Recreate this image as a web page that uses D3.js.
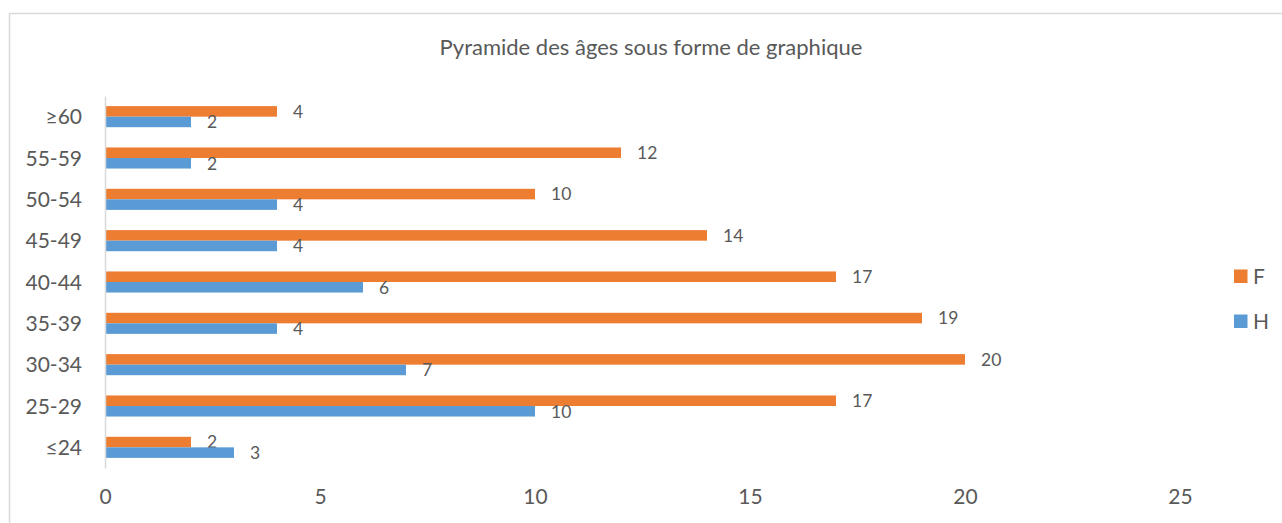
<!DOCTYPE html>
<html><head><meta charset="utf-8">
<script src="https://cdn.jsdelivr.net/npm/d3@7"></script>
<style>
html,body{margin:0;padding:0;background:#fff;}
svg{display:block;}
text{font-family:Lato, "Noto Sans", sans-serif;fill:#595959;}
</style></head>
<body>
<svg id="chart" width="1282" height="523"></svg>
<script>
const categories = ["≥60","55-59","50-54","45-49","40-44","35-39","30-34","25-29","≤24"];
const seriesNames = ["F","H"];
const valuesF = [4,12,10,14,17,19,20,17,2];
const valuesH = [2,2,4,4,6,4,7,10,3];
const xTicks = [0,5,10,15,20,25];
const title = "Pyramide des âges sous forme de graphique";
const colors = {F:"#ED7D31", H:"#5B9BD5"};

const svg = d3.select("#chart");
svg.append("rect").attr("x",9.5).attr("y",13.5).attr("width",1290).attr("height",530)
  .attr("fill","none").attr("stroke","#d9d9d9").attr("stroke-width",1.5);

svg.append("text").attr("x",651).attr("y",55).attr("text-anchor","middle")
  .style("font-size","22px").text(title);

const x = d3.scaleLinear().domain([0,25]).range([105,1180]);
const y = d3.scaleBand().domain(categories).range([96,468]).paddingInner(0.49).paddingOuter(0.245);
const ySub = d3.scaleBand().domain(seriesNames).range([0,y.bandwidth()]);

const data = categories.map((c,i)=>({cat:c, F:valuesF[i], H:valuesH[i]}));

const g = svg.append("g");
seriesNames.forEach(s=>{
  g.selectAll("rect.b"+s).data(data).join("rect")
    .attr("x",x(0)).attr("y",d=>y(d.cat)+ySub(s))
    .attr("width",d=>x(d[s])-x(0)).attr("height",ySub.bandwidth())
    .attr("fill",colors[s]);
  g.selectAll("text.l"+s).data(data).join("text")
    .attr("x",d=>x(d[s])+16).attr("y",d=>y(d.cat)+ySub(s)+ySub.bandwidth()/2)
    .attr("dy","0.36em").style("font-size","17.5px").text(d=>d[s]);
});

// y axis
const yAxis = d3.axisLeft(y).tickSize(0).tickPadding(23);
const ya = svg.append("g").attr("transform","translate(105,0)").call(yAxis);
ya.select(".domain").attr("stroke","#d9d9d9").attr("stroke-width",1.5);
ya.selectAll("text").style("font-size","21px").style("font-family","Lato, 'Noto Sans', sans-serif").attr("fill","#595959").attr("dy","0.36em");

// x axis labels only
const xAxis = d3.axisBottom(x).tickValues(xTicks).tickSize(0).tickPadding(0);
const xa = svg.append("g").attr("transform","translate(0,489)").call(xAxis);
xa.select(".domain").remove();
xa.selectAll("text").style("font-size","21px").style("font-family","Lato, 'Noto Sans', sans-serif").attr("fill","#595959").attr("dy","0.72em");

// legend
const leg = svg.append("g");
const legY = {F:276, H:321};
seriesNames.forEach(s=>{
  leg.append("rect").attr("x",1234).attr("y",legY[s]-6.5).attr("width",13.5).attr("height",13.5).attr("fill",colors[s]);
  leg.append("text").attr("x",1253).attr("y",legY[s]).attr("dy","0.36em").style("font-size","21px").text(s);
});
</script>
</body></html>
